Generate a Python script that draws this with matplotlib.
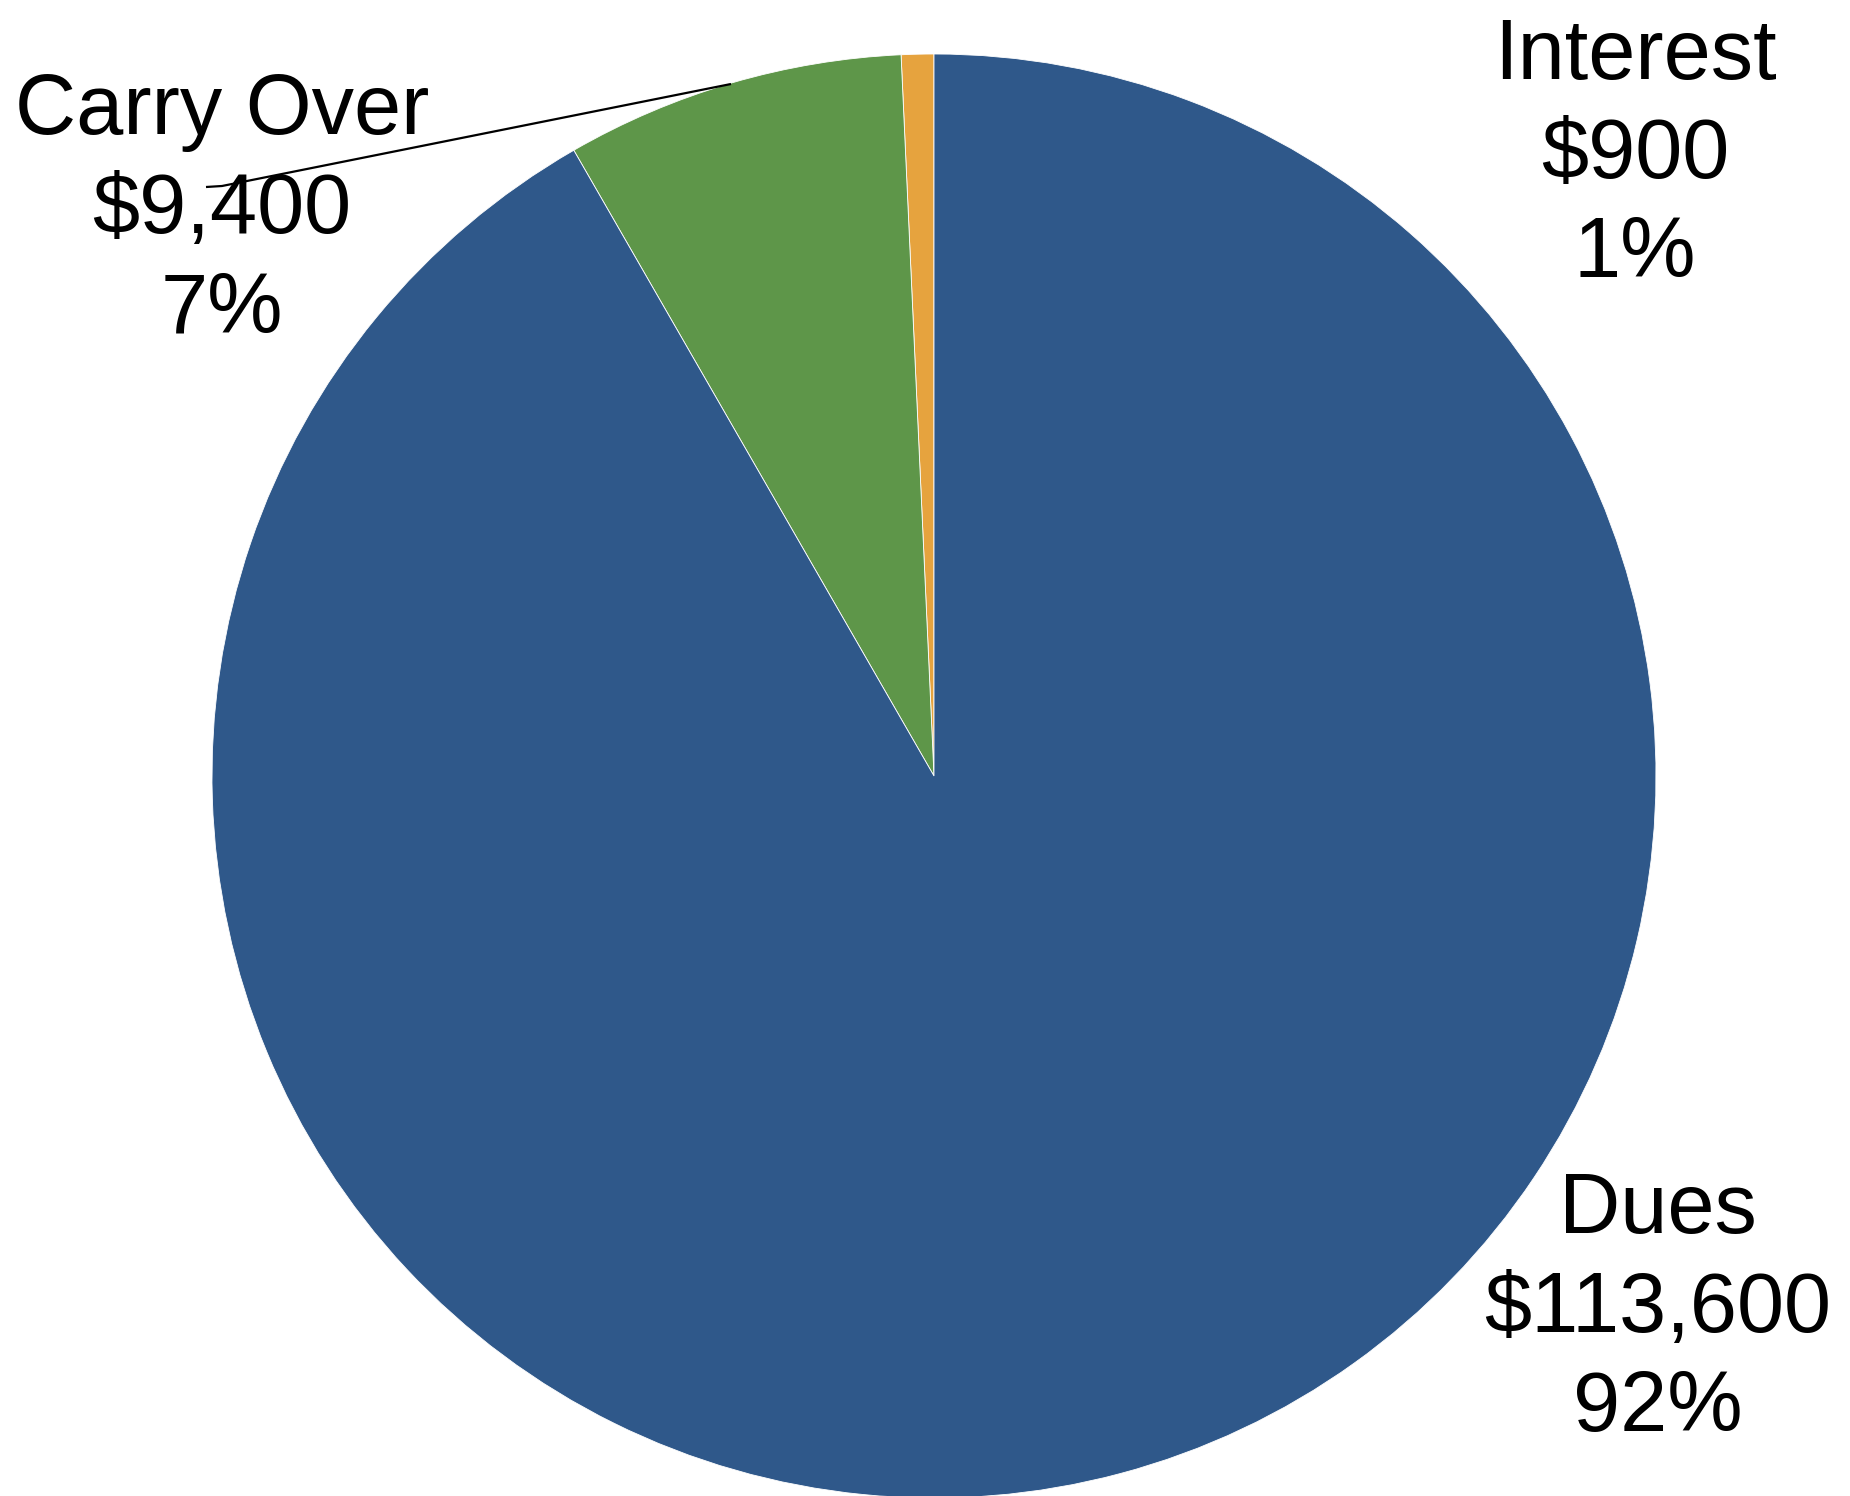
import matplotlib
matplotlib.use("Agg")
import matplotlib.pyplot as plt

# Income sources
categories = ["Interest", "Carry Over", "Dues"]
amounts = [900, 9400, 113600]
amount_labels = ["$900", "$9,400", "$113,600"]
percent_labels = ["1%", "7%", "92%"]
colors = ["#E6A33E", "#5E9649", "#2F588A"]

W, H = 1850, 1496
fig = plt.figure(figsize=(W / 100, H / 100), dpi=100)
ax = fig.add_axes([0, 0, 1, 1])

center = (934, H - 776)
radius = 722
ax.pie(amounts, colors=colors, startangle=90, counterclock=True,
       center=center, radius=radius, frame=True,
       wedgeprops=dict(linewidth=0.6, edgecolor="white"))
ax.set_xlim(0, W)
ax.set_ylim(0, H)
ax.set_aspect("equal")
ax.axis("off")

label_pos = {
    "Interest": (1635, H - 156),
    "Carry Over": (222, H - 211),
    "Dues": (1658, H - 1310),
}
for cat, amt, pct in zip(categories, amount_labels, percent_labels):
    x, y = label_pos[cat]
    ax.text(x, y, f"{cat}\n{amt}\n{pct}", ha="center", va="center",
            fontsize=61, family="Liberation Sans", linespacing=1.31,
            color="black")

# Leader line for the Carry Over label
ax.plot([731, 222, 206], [H - 84, H - 186, H - 187], color="black", lw=1.6,
        solid_capstyle="butt")

fig.savefig("out.png", dpi=100)
